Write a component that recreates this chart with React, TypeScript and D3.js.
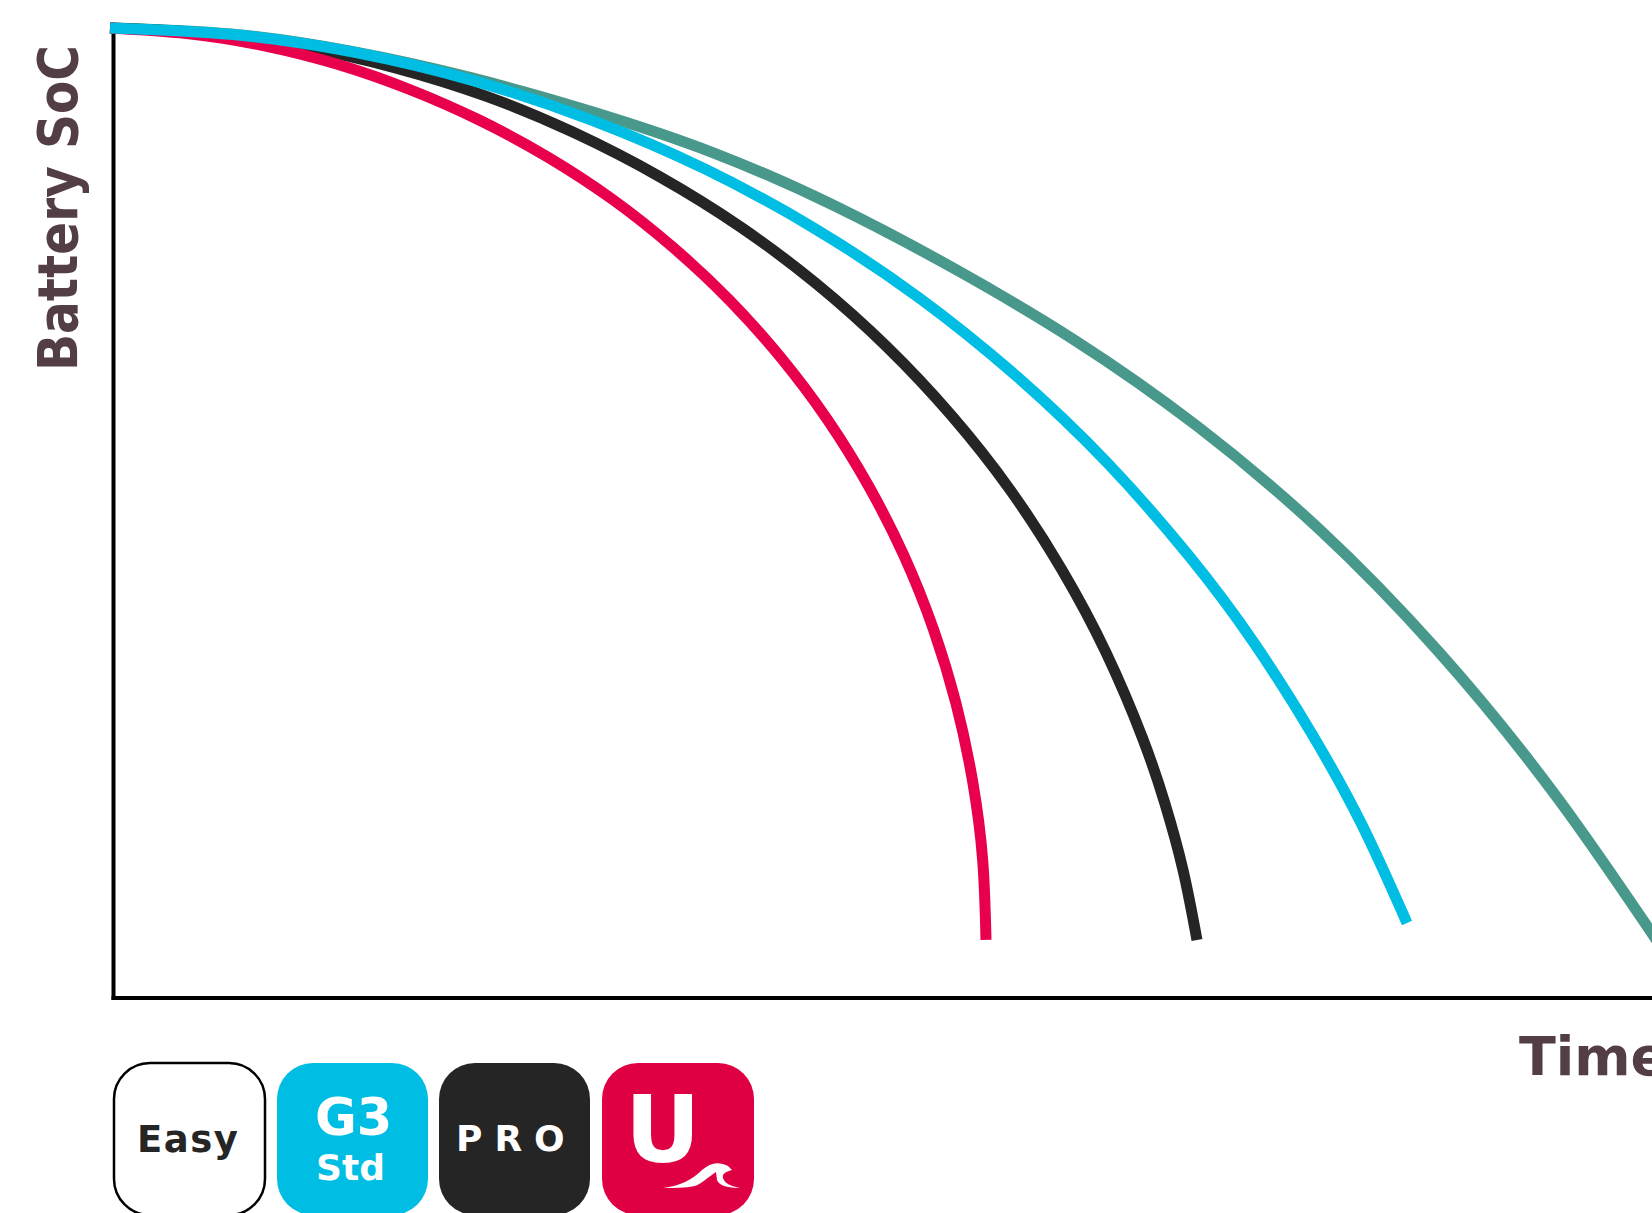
import React, { useEffect, useRef } from "react";
import { select, scaleLinear, line, curveNatural, axisBottom, axisLeft } from "d3";

// time in minutes, state of charge in %
const greenTime = [0, 121, 242, 362, 483, 604, 725, 845, 966, 1087, 1208, 1328, 1449, 1570];
const greenSoc = [100, 99.38, 97.58, 94.85, 91.34, 87.11, 81.65, 75.15, 67.73, 58.97, 48.45, 35.77, 20.41, 2.37];

const blackTime = [0, 95.8, 190.8, 284.4, 375.9, 464.4, 549.5, 630.4, 706.4, 777.1, 841.8, 900.3, 951.7, 996, 1032.7, 1054.8, 1073, 1087];
const blackSoc = [100, 99.47, 98.11, 95.92, 92.98, 89.19, 84.68, 79.5, 73.63, 67.11, 60.01, 52.36, 44.18, 35.62, 26.76, 20.09, 13.2, 5.98];

const redTime = [0, 76.4, 152.1, 226.7, 299.6, 370.2, 438, 502.5, 563.1, 619.4, 671, 717.6, 758.6, 793.9, 823.2, 846.1, 862.7, 872.7, 876];
const redSoc = [100, 99.43, 98.21, 96.28, 93.66, 90.46, 86.68, 82.33, 77.38, 71.95, 66.0, 59.6, 52.78, 45.61, 38.08, 30.31, 22.3, 14.18, 5.98];

const blueTime = [0, 122.9, 244.8, 364.9, 482.2, 595.9, 705, 808.8, 906.3, 997, 1080.1, 1143.7, 1200.9, 1251.8, 1297];
const blueSoc = [100, 99.32, 97.48, 94.52, 90.48, 85.42, 79.31, 72.21, 64.13, 55.2, 45.43, 36.66, 27.4, 17.88, 7.73];

const seriesColors = ["#48998c", "#252525", "#e8004c", "#00bee3"];
const seriesTimes = [greenTime, blackTime, redTime, blueTime];
const seriesSocs = [greenSoc, blackSoc, redSoc, blueSoc];

const width = 1652;
const height = 1213;
const fontFamily = "'DejaVu Sans', sans-serif";

const App = () => {
  const chartRef = useRef<SVGGElement>(null);

  useEffect(() => {
    if (!chartRef.current) return;
    const g = select(chartRef.current);
    g.selectAll("*").remove();

    const x = scaleLinear().domain([0, 1542]).range([110, 1652]);
    const y = scaleLinear().domain([0, 100]).range([998, 28]);

    // axes with no ticks, only the black lines
    const xAxis = g
      .append("g")
      .attr("transform", "translate(0,998)")
      .call(axisBottom(scaleLinear().domain([0, 1]).range([111.5, 1652])).tickValues([]).tickSizeOuter(0).offset(0));
    const yAxis = g
      .append("g")
      .attr("transform", "translate(113.5,0)")
      .call(axisLeft(scaleLinear().domain([0, 1]).range([1000, 30])).tickValues([]).tickSizeOuter(0).offset(0));
    [xAxis, yAxis].forEach((a) => a.select(".domain").attr("stroke", "#000").attr("stroke-width", 4));

    const lineGenerator = line<[number, number]>()
      .x((d) => x(d[0]))
      .y((d) => y(d[1]))
      .curve(curveNatural);

    seriesTimes.forEach((times, i) => {
      const points = times.map((t, j) => [t, seriesSocs[i][j]] as [number, number]);
      g.append("path")
        .datum(points)
        .attr("fill", "none")
        .attr("stroke", seriesColors[i])
        .attr("stroke-width", 11)
        .attr("d", lineGenerator);
    });
  }, []);

  return (
    <svg
      width={width}
      height={height}
      viewBox={`0 0 ${width} ${height}`}
      style={{ position: "absolute", left: 0, top: 0, background: "#fff" }}
      fontFamily={fontFamily}
      fontWeight="bold"
    >
      <g ref={chartRef}></g>

      <text
        transform="translate(77,371) rotate(-90)"
        fontSize={55}
        fill="#523e44"
        textLength={326}
        lengthAdjust="spacingAndGlyphs"
      >
        Battery SoC
      </text>
      <text x={1519} y={1075} fontSize={54} fill="#523e44">
        Time
      </text>

      {/* series badges */}
      <rect x={114} y={1063} width={151} height={152} rx={36} fill="#fff" stroke="#000" strokeWidth={2.5} />
      <text x={137} y={1152} fontSize={37} letterSpacing={1.5} fill="#252525">
        Easy
      </text>

      <rect x={277} y={1063} width={151} height={152} rx={36} fill="#00bee3" />
      <text x={315} y={1135} fontSize={51} fill="#fff">
        G3
      </text>
      <text x={316} y={1180} fontSize={36} fill="#fff">
        Std
      </text>

      <rect x={439} y={1063} width={151} height={152} rx={36} fill="#252525" />
      <text x={456} y={1151} fontSize={36} letterSpacing={12} fill="#fff">
        PRO
      </text>

      <rect x={602} y={1063} width={152} height={152} rx={36} fill="#df0044" />
      <text x={625} y={1162} fontSize={93} fill="#fff">
        U
      </text>
      <path
        d="M663,1188 C680,1186 692,1180 702,1170 C710,1163 718,1161 728,1166 L732,1170 C725,1172 722,1174 723,1178 C725,1184 731,1186 740,1188 C729,1188 719,1186 717,1180 L716,1172 C708,1177 703,1183 695,1186 C685,1188 674,1188 663,1188 Z"
        fill="#fff"
      />
    </svg>
  );
};

export default App;
